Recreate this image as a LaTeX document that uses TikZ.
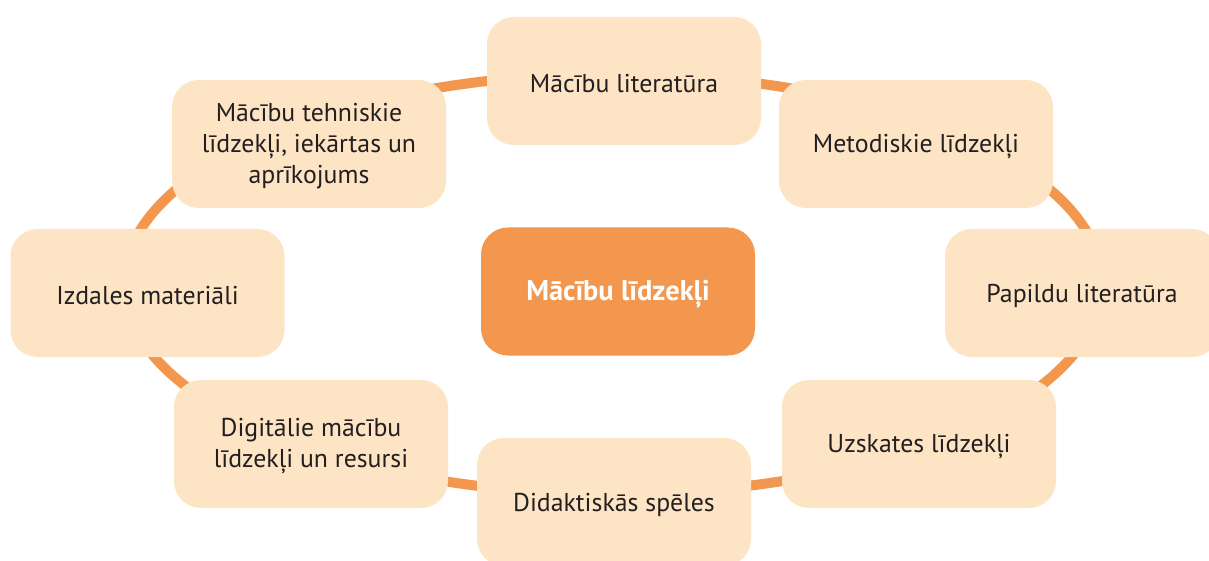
\documentclass[tikz,border=0pt]{standalone}
\usepackage{fontspec}
\setmainfont{PT Sans}
\definecolor{ringc}{RGB}{242,151,77}
\definecolor{lightc}{RGB}{253,228,197}
\definecolor{txtc}{RGB}{35,31,32}
\begin{document}
\begin{tikzpicture}[x=1pt,y=-1pt,
  box/.style={rounded corners=27pt, minimum width=274pt, minimum height=128pt,
    fill=lightc, inner sep=0pt},
  mainbox/.style={box, fill=ringc},
  txt/.style={align=center, inner sep=0pt, text=txtc,
    font=\fontsize{25.8}{31}\selectfont},
  maintxt/.style={txt, text=white, font=\fontsize{28.5}{31}\selectfont\bfseries},
  ring/.style={draw=ringc, line width=10pt}]
\useasboundingbox (0,0) rectangle (1209,561);
\clip (0,0) rectangle (1209,561);
\draw[ring] (613,284) ellipse [x radius=489, y radius=210];
\node[box] (lit) at (624,81) {};
\node[box] (tehn) at (309,144) {};
\node[box] (meto) at (916,144) {};
\node[box] (izd) at (147.5,293) {};
\node[mainbox] (cent) at (618,291.5) {};
\node[box] (pap) at (1082,293) {};
\node[box] (dig) at (311,444) {};
\node[box] (uzs) at (919,444) {};
\node[box] (did) at (614,502) {};
\node[txt] (litT) at ([yshift=-3pt]lit.center) {Mācību literatūra};
\node[txt] (tehnT) at ([yshift=-2pt]tehn.center) {Mācību tehniskie\\līdzekļi, iekārtas un\\aprīkojums};
\node[txt] (metoT) at ([yshift=-3pt]meto.center) {Metodiskie līdzekļi};
\node[txt] (izdT) at ([yshift=-3pt]izd.center) {Izdales materiāli};
\node[maintxt] (centT) at ([yshift=-3pt]cent.center) {Mācību līdzekļi};
\node[txt] (papT) at ([yshift=-3pt]pap.center) {Papildu literatūra};
\node[txt] (digT) at ([yshift=-2pt]dig.center) {Digitālie mācību\\līdzekļi un resursi};
\node[txt] (uzsT) at ([yshift=-3pt]uzs.center) {Uzskates līdzekļi};
\node[txt] (didT) at ([yshift=-3pt]did.center) {Didaktiskās spēles};
\end{tikzpicture}
\end{document}
